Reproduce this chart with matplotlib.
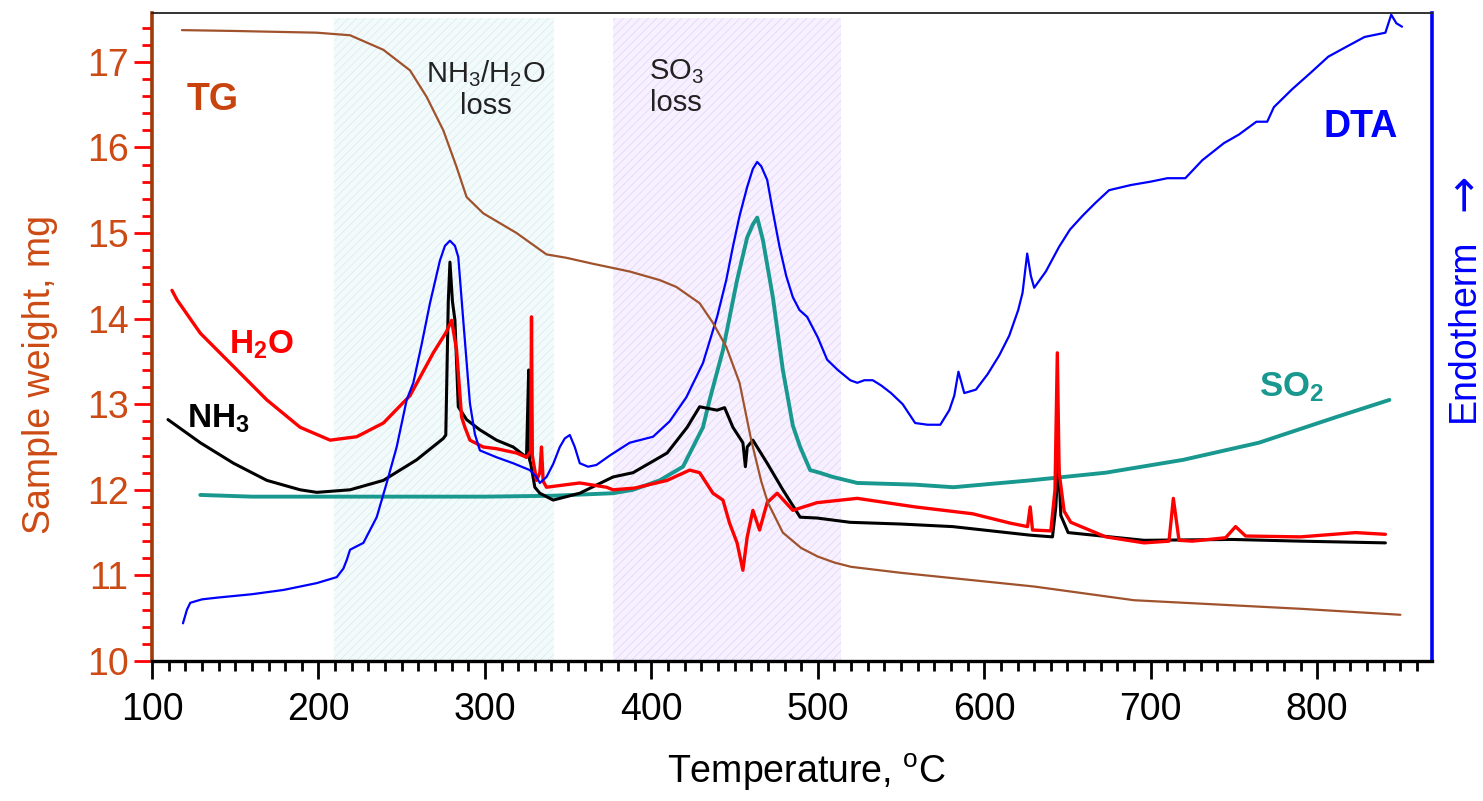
import matplotlib
matplotlib.use("Agg")
import matplotlib.pyplot as plt
from matplotlib.ticker import MultipleLocator

plt.rcParams['font.family'] = ['Liberation Sans', 'DejaVu Sans']
plt.rcParams['mathtext.fontset'] = 'custom'
plt.rcParams['mathtext.rm'] = 'Liberation Sans'
plt.rcParams['mathtext.it'] = 'Liberation Sans'
plt.rcParams['mathtext.bf'] = 'Liberation Sans:bold'
plt.rcParams['hatch.linewidth'] = 0.5

# ---------------- data ----------------
tg_T = [118, 150, 199, 219, 239, 255, 265, 275, 283, 289, 299, 319, 337, 349, 365, 387,
        405, 415, 429, 437, 445, 453, 460, 466, 470, 479, 490, 500, 510, 520, 550, 590,
        630, 690, 730, 790, 850]
tg_W = [17.37, 17.36, 17.34, 17.31, 17.14, 16.90, 16.59, 16.20, 15.77, 15.42, 15.23, 15.00,
        14.75, 14.71, 14.64, 14.55, 14.45, 14.37, 14.18, 13.95, 13.67, 13.25, 12.58, 12.10,
        11.85, 11.50, 11.32, 11.22, 11.15, 11.10, 11.03, 10.95, 10.87, 10.71, 10.67, 10.61, 10.54]

dta_T = [118.6, 121, 123, 130, 139, 160, 179, 199, 211, 215, 217, 219, 227, 235, 241, 247,
         253, 257, 262, 267, 273, 276, 279, 282, 284, 287, 291, 294, 297, 307, 317, 327,
         331, 333, 337, 341, 345, 348, 351, 354, 357, 362, 367, 375, 387, 401, 411, 421,
         431, 439.5, 445, 449, 453, 457.6, 461, 463.6, 466, 469.6, 473, 477, 481, 485, 489,
         493.6, 500, 505.6, 512, 519.5, 523.7, 528, 533, 538, 544, 551, 558.5, 566, 573.6,
         579, 582, 584.5, 588, 595, 602, 609, 615, 620.4, 623, 625.8, 628, 630, 637, 645,
         651.5, 659, 666.7, 675, 688, 700, 710, 720.8, 731, 744, 753, 763.5, 770, 774, 785,
         796, 806.7, 818, 828.5, 841, 844.5, 847.6, 851]
dta_S = [10.44, 10.60, 10.68, 10.72, 10.74, 10.78, 10.83, 10.91, 10.98, 11.08, 11.18, 11.30,
         11.38, 11.68, 12.08, 12.50, 13.05, 13.25, 13.70, 14.18, 14.68, 14.85, 14.91, 14.85,
         14.72, 13.98, 13.01, 12.65, 12.46, 12.38, 12.31, 12.23, 12.15, 12.08, 12.15, 12.30,
         12.50, 12.60, 12.64, 12.50, 12.31, 12.27, 12.29, 12.40, 12.55, 12.62, 12.80, 13.08,
         13.48, 14.02, 14.45, 14.84, 15.20, 15.54, 15.75, 15.83, 15.78, 15.62, 15.25, 14.84,
         14.50, 14.25, 14.10, 14.02, 13.78, 13.52, 13.40, 13.28, 13.25, 13.28, 13.28, 13.22,
         13.13, 13.00, 12.78, 12.76, 12.76, 12.93, 13.10, 13.38, 13.13, 13.17, 13.35, 13.57,
         13.80, 14.10, 14.30, 14.76, 14.50, 14.36, 14.55, 14.84, 15.04, 15.20, 15.35, 15.50,
         15.56, 15.60, 15.64, 15.64, 15.85, 16.05, 16.15, 16.30, 16.30, 16.47, 16.68, 16.87,
         17.06, 17.18, 17.29, 17.34, 17.55, 17.45, 17.41]

h2o_T = [112, 115, 129, 149, 169, 189, 207, 223, 239, 255, 262, 269, 277, 280, 283, 286,
         288, 291, 299, 307, 319, 325, 327.5, 328, 328.5, 331, 333, 334, 335, 337, 345, 357,
         373, 377, 390, 409.5, 423, 429, 437, 443, 447, 451.5, 455, 457.6, 461, 465, 469.6,
         475.6, 485, 499.6, 523.7, 558.5, 593, 615.7, 626, 627.6, 629, 640, 642.5, 643.9,
         645, 648, 652, 673, 696, 711, 713.6, 717, 725, 745, 751, 757, 790, 823, 841]
h2o_S = [14.33, 14.22, 13.83, 13.44, 13.05, 12.73, 12.58, 12.62, 12.78, 13.10, 13.35, 13.60,
         13.85, 13.98, 13.63, 12.85, 12.73, 12.58, 12.50, 12.48, 12.43, 12.38, 12.45, 14.02,
         12.40, 12.11, 12.20, 12.50, 12.10, 12.03, 12.05, 12.08, 12.03, 12.00, 12.02, 12.11,
         12.23, 12.20, 11.96, 11.88, 11.61, 11.38, 11.06, 11.45, 11.76, 11.53, 11.85, 11.96,
         11.76, 11.85, 11.90, 11.80, 11.72, 11.61, 11.57, 11.80, 11.53, 11.52, 12.00, 13.60,
         12.20, 11.75, 11.62, 11.45, 11.38, 11.40, 11.90, 11.41, 11.40, 11.44, 11.57, 11.46,
         11.45, 11.50, 11.48]

nh3_T = [109.6, 129, 149, 169, 189, 199, 219, 239, 259, 275, 276.5, 278, 279, 280.5, 282,
         284, 289, 297, 307, 317, 325, 326.3, 326.8, 327.5, 330, 333, 341, 357, 377, 389,
         409.5, 421.5, 429, 439.5, 444, 449, 455, 456.5, 457.6, 461, 469.6, 479, 489.4,
         499.6, 519.5, 550, 581, 627.6, 641, 643, 644.5, 646, 650.4, 696, 749, 790, 841]
nh3_S = [12.82, 12.55, 12.31, 12.11, 12.00, 11.97, 12.00, 12.11, 12.35, 12.60, 12.64, 14.20,
         14.66, 14.20, 13.98, 12.97, 12.82, 12.70, 12.58, 12.50, 12.38, 13.40, 12.35, 12.31,
         12.03, 11.96, 11.88, 11.96, 12.15, 12.20, 12.43, 12.73, 12.97, 12.93, 12.96, 12.73,
         12.55, 12.27, 12.50, 12.58, 12.31, 12.00, 11.68, 11.67, 11.62, 11.60, 11.57, 11.47,
         11.45, 11.80, 12.38, 11.70, 11.50, 11.41, 11.42, 11.40, 11.38]

so2_T = [129, 160, 200, 250, 300, 340, 377, 389, 405, 419, 425, 431, 435, 443, 451.5, 457.6,
         461, 463.6, 467, 473, 479, 485, 489.4, 495.4, 501, 509, 523.7, 558.5, 581.4, 627.6,
         673, 719.5, 765, 811.5, 843.4]
so2_S = [11.94, 11.92, 11.92, 11.92, 11.92, 11.93, 11.96, 12.00, 12.11, 12.27, 12.50, 12.73,
         13.05, 13.63, 14.45, 14.95, 15.10, 15.18, 14.92, 14.25, 13.40, 12.75, 12.50, 12.23,
         12.20, 12.15, 12.08, 12.06, 12.03, 12.11, 12.20, 12.35, 12.55, 12.85, 13.05]

regions = [(209.4, 341.6), (377.0, 514.0)]
region_titles = ['$\\mathregular{NH_3/H_2O}$', '$\\mathregular{SO_3}$']
x_ticks = [100, 200, 300, 400, 500, 600, 700, 800]
y_ticks = [10, 11, 12, 13, 14, 15, 16, 17]

# ---------------- figure ----------------
W, H = 1483, 801
fig = plt.figure(figsize=(W / 100, H / 100), dpi=100)
ax = fig.add_axes([152 / W, 1 - 661 / H, (1432 - 152) / W, (661 - 13) / H])
ax.set_xlim(100, 869)
ax.set_ylim(10, 17.57)

# shaded regions
ax.axvspan(regions[0][0], regions[0][1], ymax=0.993, facecolor='#F3FAFB',
           edgecolor='#D8ECEC', hatch='////', linewidth=0, zorder=0)
ax.axvspan(regions[1][0], regions[1][1], ymax=0.993, facecolor='#F6F0FF',
           edgecolor='#E2D2FA', hatch='////', linewidth=0, zorder=0)

ax.text(300.5, 16.86, region_titles[0], ha='center', va='center',
        fontsize=21, color='#222222')
ax.text(300.5, 16.48, 'loss', ha='center', va='center', fontsize=21, color='#222222')
ax.text(415, 16.88, region_titles[1], ha='center', va='center',
        fontsize=21, color='#222222')
ax.text(415, 16.52, 'loss', ha='center', va='center', fontsize=21, color='#222222')

# curves
kw = dict(solid_joinstyle='round', solid_capstyle='round')
ax.plot(so2_T, so2_S, color='#18988E', lw=2.8, zorder=2, **kw)
ax.plot(nh3_T, nh3_S, color='black', lw=2.2, zorder=3, **kw)
ax.plot(h2o_T, h2o_S, color='#FF0000', lw=2.4, zorder=4, **kw)
ax.plot(dta_T, dta_S, color='#0000FF', lw=1.6, zorder=5, **kw)
ax.plot(tg_T, tg_W, color='#A0522D', lw=1.6, zorder=6, **kw)

# curve labels
ax.text(121, 16.55, 'TG', fontsize=27, fontweight='bold', color='#C8440E',
        ha='left', va='center')
ax.text(146, 13.69, 'H$\\mathregular{_2}$O', fontsize=24, fontweight='bold',
        color='#FF0000', ha='left', va='center')
ax.text(121, 12.83, '$\\mathbf{NH_3}$', fontsize=24, color='black', ha='left', va='center')
ax.text(765, 13.2, '$\\mathbf{SO_2}$', fontsize=25, color='#18988E', ha='left', va='center')
ax.text(804, 16.24, 'DTA', fontsize=27, fontweight='bold', color='#0000FF',
        ha='left', va='center')

# axes styling
ax.set_xticks(x_ticks)
ax.set_yticks(y_ticks)
ax.xaxis.set_minor_locator(MultipleLocator(10))
ax.yaxis.set_minor_locator(MultipleLocator(0.2))
ax.tick_params(axis='x', which='major', direction='out', length=13, width=2.0,
               color='black', labelsize=27, pad=9, labelcolor='black')
ax.tick_params(axis='x', which='minor', direction='out', length=7, width=2.0, color='black')
ax.tick_params(axis='y', which='major', direction='out', length=13, width=2.0,
               color='#FF0000', labelsize=27, pad=4, labelcolor='#CC4A14')
ax.tick_params(axis='y', which='minor', direction='out', length=7, width=2.0, color='#FF0000')
ax.tick_params(right=False, top=False, which='both')

ax.spines['left'].set_color('#9E3C0C')
ax.spines['left'].set_linewidth(2.6)
ax.spines['bottom'].set_color('black')
ax.spines['bottom'].set_linewidth(2.4)
ax.spines['top'].set_color('#222222')
ax.spines['top'].set_linewidth(1.3)
ax.spines['right'].set_color('#0000FF')
ax.spines['right'].set_linewidth(2.6)

fig.text(807 / W, 1 - 772 / H, 'Temperature, $\\mathregular{^{o}}$C', fontsize=27,
         ha='center', va='center', color='black')
fig.text(40 / W, 1 - 374 / H, 'Sample weight, mg', fontsize=27, rotation=90,
         ha='center', va='center', color='#CC4A14')
fig.text(1464 / W, 1 - 330 / H, 'Endotherm', fontsize=27, rotation=90,
         ha='center', va='center', color='#0000FF')
fig.text(1463 / W, 1 - 192 / H, '\u2192', fontsize=32, rotation=90,
         ha='center', va='center', color='#0000FF', family=['DejaVu Sans'])

fig.savefig('out.png', dpi=100)
